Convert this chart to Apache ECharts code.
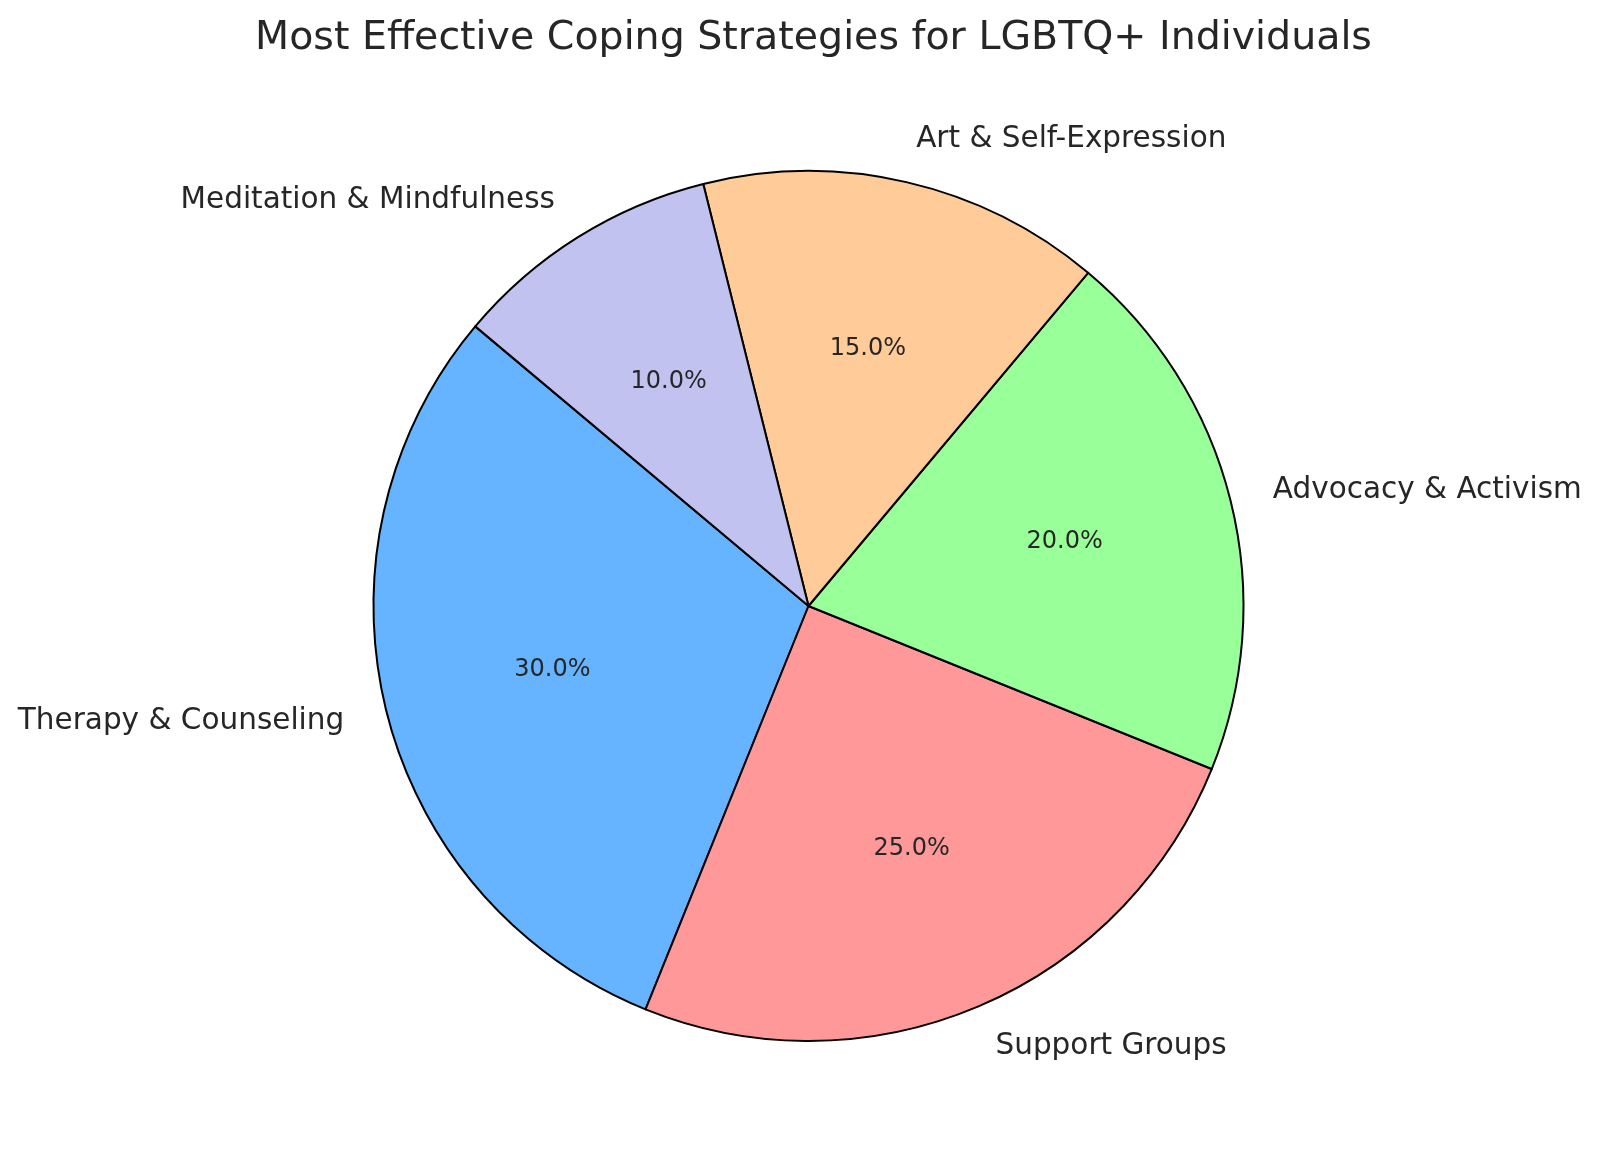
<!DOCTYPE html>
<html>
<head>
<meta charset="utf-8">
<script src="https://cdn.jsdelivr.net/npm/echarts@6/dist/echarts.min.js"></script>
<style>html,body{margin:0;padding:0;background:#fff}#c{width:1600px;height:1169px}</style>
</head>
<body>
<div id="c"></div>
<script>
const categories = ['Therapy & Counseling', 'Support Groups', 'Advocacy & Activism', 'Art & Self-Expression', 'Meditation & Mindfulness'];
const values = [30, 25, 20, 15, 10];
const colors = ['#66b3ff', '#ff9999', '#99ff99', '#ffcc99', '#c2c2f0'];

const R = 435;
const CX = 808.5, CY = 606;
const font = 'DejaVu Sans';
const textColor = '#262626';

const data = categories.map((c, i) => ({ name: c, value: values[i], itemStyle: { color: colors[i] } }));

const chart = echarts.init(document.getElementById('c'), null, { renderer: 'canvas' });
chart.setOption({
  backgroundColor: '#ffffff',
  animation: false,
  title: {
    text: 'Most Effective Coping Strategies for LGBTQ+ Individuals',
    left: CX,
    textAlign: 'center',
    top: 14,
    textStyle: { fontFamily: font, fontSize: 39.5, fontWeight: 'normal', color: textColor }
  },
  series: [
    {
      type: 'pie',
      center: [CX, CY],
      radius: [0, R],
      startAngle: 140,
      clockwise: false,
      avoidLabelOverlap: false,
      silent: true,
      itemStyle: { borderColor: '#000', borderWidth: 2 },
      label: {
        show: true,
        position: 'outside',
        fontFamily: font,
        fontSize: 29.5,
        color: textColor,
        distanceToLabelLine: 0,
        overflow: 'none',
        formatter: '{b}'
      },
      labelLine: { show: false, length: R * 0.1, length2: 0 },
      data: data
    },
    {
      type: 'pie',
      center: [CX, CY],
      radius: [R * 0.2, R],
      startAngle: 140,
      clockwise: false,
      avoidLabelOverlap: false,
      silent: true,
      z: 5,
      itemStyle: { color: 'rgba(0,0,0,0)', borderWidth: 0 },
      label: {
        show: true,
        position: 'inside',
        fontFamily: font,
        fontSize: 24,
        color: textColor,
        formatter: p => p.percent.toFixed(1) + '%'
      },
      labelLine: { show: false },
      data: categories.map((c, i) => ({ name: c, value: values[i] }))
    }
  ]
});
</script>
</body>
</html>
